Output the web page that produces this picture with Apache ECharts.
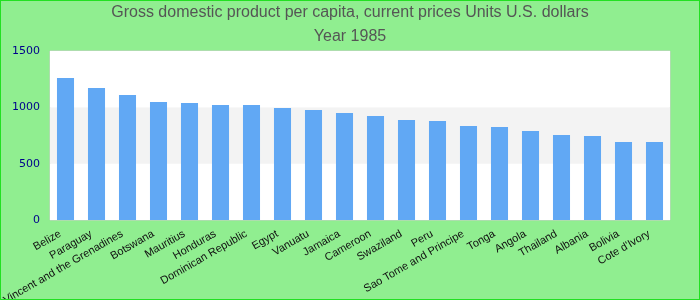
<!DOCTYPE html>
<html><head><meta charset="utf-8">
<script src="https://cdn.jsdelivr.net/npm/echarts@6/dist/echarts.min.js"></script>
<style>html,body{margin:0;padding:0;}#c{width:700px;height:300px;box-sizing:border-box;border:1px solid #22e022;background:#90ee90;}</style>
</head><body><div id="c"></div>
<script>
var categories = ["Belize","Paraguay","Saint Vincent and the Grenadines","Botswana","Mauritius","Honduras","Dominican Republic","Egypt","Vanuatu","Jamaica","Cameroon","Swaziland","Peru","Sao Tome and Principe","Tonga","Angola","Thailand","Albania","Bolivia","Cote d'Ivory"];
var values = [1260,1172,1109,1047,1038,1021,1021,994,976,950,923,888,879,834,825,790,754,746,692,692];
var yTicks = [0,500,1000,1500];
var chart = echarts.init(document.getElementById('c'));
chart.setOption({
  animation:false,
  backgroundColor:'#90ee90',
  title:{text:'Gross domestic product per capita, current prices Units U.S. dollars\nYear 1985',left:'center',top:0,padding:0,
    textStyle:{fontFamily:'Liberation Sans',fontSize:16,fontWeight:'normal',color:'#555',lineHeight:24}},
  grid:{left:49,right:29,top:50,bottom:79,show:true,backgroundColor:'#fff',borderColor:'#ccc',borderWidth:1,
    containLabel:false,outerBoundsMode:'none'},
  xAxis:{type:'category',data:categories,
    axisLine:{show:false},axisTick:{show:false},
    axisLabel:{interval:0,rotate:30,color:'#111',fontFamily:'Liberation Sans',fontSize:11,margin:10,padding:[0,6,0,0]}},
  yAxis:{type:'value',min:yTicks[0],max:yTicks[yTicks.length-1],interval:500,
    axisLine:{show:false},axisTick:{show:false},splitLine:{show:false},
    splitArea:{show:true,areaStyle:{color:['#ffffff','#f3f3f3']}},
    axisLabel:{color:'#00008b',fontFamily:'DejaVu Sans',fontSize:11,margin:10,formatter:function(v){return String(v);}}},
  series:[{type:'bar',data:values,barWidth:'55%',itemStyle:{color:'#61a8f4'}}]
});
</script></body></html>
